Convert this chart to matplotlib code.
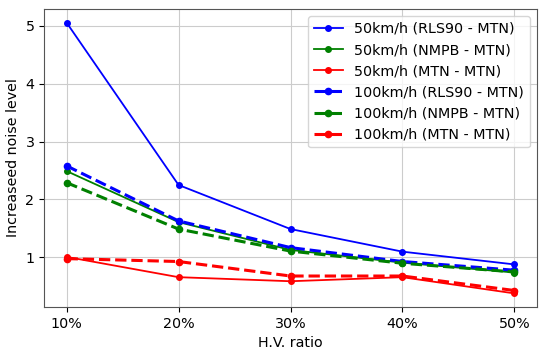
import matplotlib
matplotlib.use("Agg")
import matplotlib.pyplot as plt

ratio = [10, 20, 30, 40, 50]
tick_labels = ["10%", "20%", "30%", "40%", "50%"]

rls90_50 = [5.05, 2.25, 1.49, 1.10, 0.88]
nmpb_50 = [2.49, 1.61, 1.13, 0.91, 0.74]
mtn_50 = [1.01, 0.66, 0.59, 0.66, 0.38]
rls90_100 = [2.58, 1.63, 1.17, 0.93, 0.78]
nmpb_100 = [2.29, 1.49, 1.11, 0.90, 0.75]
mtn_100 = [0.98, 0.93, 0.68, 0.68, 0.43]

fs = 10.3
fig, ax = plt.subplots(figsize=(5.39, 3.5), dpi=100)

ax.plot(ratio, rls90_50, "b-o", lw=1.3, ms=4, label="50km/h (RLS90 - MTN)")
ax.plot(ratio, nmpb_50, "g-o", lw=1.3, ms=4, label="50km/h (NMPB - MTN)")
ax.plot(ratio, mtn_50, "r-o", lw=1.3, ms=4, label="50km/h (MTN - MTN)")
ax.plot(ratio, rls90_100, "b--o", lw=2.2, ms=4.5, label="100km/h (RLS90 - MTN)")
ax.plot(ratio, nmpb_100, "g--o", lw=2.2, ms=4.5, label="100km/h (NMPB - MTN)")
ax.plot(ratio, mtn_100, "r--o", lw=2.2, ms=4.5, label="100km/h (MTN - MTN)")

ax.set_xticks(ratio)
ax.set_xticklabels(tick_labels, fontsize=fs)
ax.tick_params(axis="y", labelsize=fs)
ax.set_xlabel("H.V. ratio", fontsize=fs)
ax.set_ylabel("Increaseed noise level", fontsize=fs)
ax.grid(True, color="#cccccc")
for s in ax.spines.values():
    s.set_color("#555555")
ax.legend(fontsize=fs, loc="upper right", handlelength=2)

fig.subplots_adjust(left=0.082, right=0.996, top=0.974, bottom=0.123)
plt.savefig("out.png")
